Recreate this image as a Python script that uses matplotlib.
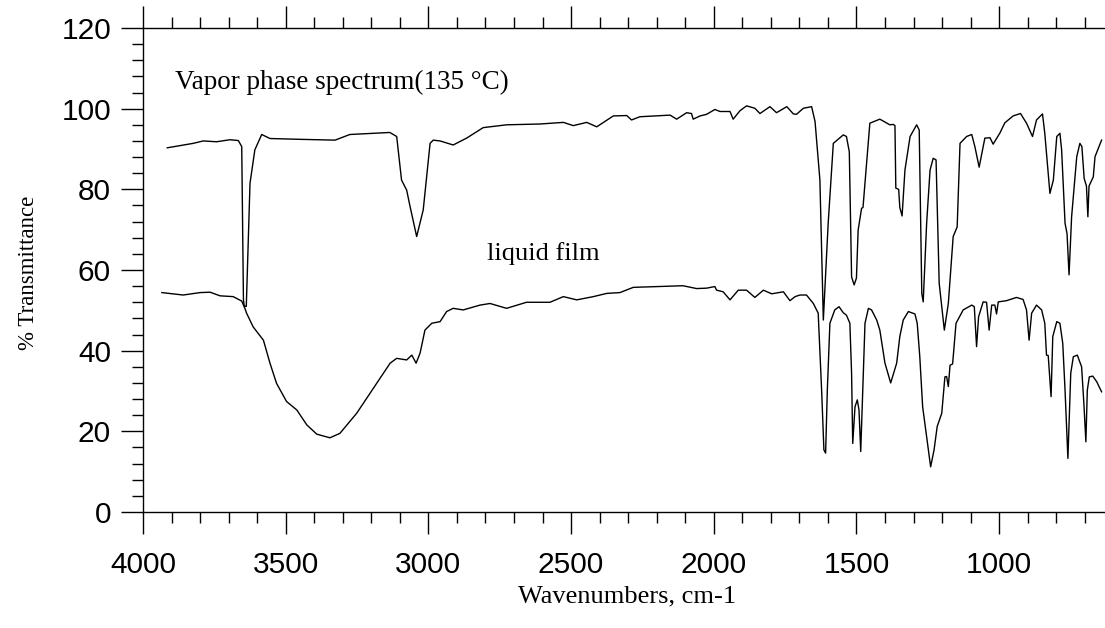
import matplotlib
matplotlib.use("Agg")
import matplotlib.pyplot as plt
from matplotlib.ticker import MultipleLocator

# vapor phase spectrum (135 C), wavenumber / % transmittance
vapor_wn = [3915, 3824, 3789, 3742, 3695, 3666, 3654, 3648, 3645, 3638,
            3625, 3608, 3584, 3555, 3450, 3327, 3275, 3135, 3111, 3094,
            3076, 3064, 3041, 3018, 2994, 2983, 2959, 2913, 2866, 2808,
            2726, 2609, 2527, 2492, 2445, 2410, 2352, 2305, 2288, 2259,
            2153, 2130, 2095, 2078, 2072, 2048, 2025, 1996, 1978, 1943,
            1932, 1908, 1885, 1856, 1838, 1803, 1780, 1744, 1721, 1710,
            1686, 1657, 1645, 1628, 1616, 1599, 1581, 1546, 1535, 1525,
            1517, 1508, 1500, 1494, 1482, 1477, 1453, 1418, 1383, 1371,
            1365, 1362, 1352, 1348, 1340, 1330, 1312, 1289, 1280, 1271,
            1266, 1254, 1242, 1231, 1221, 1210, 1192, 1178, 1161, 1147,
            1137, 1114, 1096, 1085, 1070, 1050, 1032, 1021, 997, 980,
            951, 925, 904, 883, 869, 848, 840, 828, 822, 810,
            798, 787, 781, 769, 762, 755, 746, 728, 717, 710,
            702, 694, 689, 685, 670, 664, 641]
vapor_t = [90.3, 91.4, 92.0, 91.8, 92.3, 92.1, 90.6, 52.6, 51.0, 51.0,
           81.5, 89.8, 93.6, 92.6, 92.4, 92.2, 93.6, 94.1, 93.1, 82.3,
           79.8, 75.7, 68.3, 74.9, 91.4, 92.2, 92.0, 91.0, 92.7, 95.3,
           96.0, 96.2, 96.6, 95.8, 96.6, 95.5, 98.2, 98.3, 97.2, 98.0,
           98.4, 97.4, 99.0, 98.8, 97.4, 98.2, 98.6, 99.8, 99.3, 99.3,
           97.4, 99.5, 100.7, 100.1, 98.8, 100.5, 99.0, 100.5, 98.7, 98.6,
           100.1, 100.5, 96.8, 82.3, 47.6, 71.6, 91.4, 93.5, 93.1, 89.3,
           58.3, 56.3, 58.0, 69.9, 75.3, 75.5, 96.4, 97.4, 96.0, 96.1,
           95.8, 80.3, 80.0, 75.5, 73.4, 84.8, 93.1, 96.0, 94.7, 54.2,
           52.1, 71.6, 84.8, 87.7, 87.3, 56.7, 45.1, 51.7, 68.3, 70.7,
           91.4, 93.1, 93.6, 90.6, 85.5, 92.7, 92.8, 91.2, 94.0, 96.5,
           98.2, 98.8, 96.4, 93.1, 97.2, 98.7, 93.9, 84.0, 79.0, 82.3,
           93.1, 93.9, 89.8, 71.6, 69.0, 58.8, 73.2, 88.1, 91.4, 90.6,
           82.7, 80.8, 73.2, 80.8, 83.1, 88.1, 92.2]

# liquid film spectrum
liquid_wn = [3934, 3859, 3800, 3765, 3730, 3684, 3654, 3643, 3637, 3614,
             3578, 3555, 3532, 3497, 3461, 3426, 3391, 3345, 3310, 3251,
             3181, 3134, 3111, 3076, 3058, 3043, 3029, 3012, 2988, 2959,
             2936, 2913, 2878, 2819, 2784, 2726, 2656, 2574, 2527, 2480,
             2422, 2375, 2329, 2282, 2200, 2108, 2060, 2025, 1996, 1990,
             1967, 1943, 1914, 1885, 1856, 1826, 1797, 1756, 1733, 1715,
             1698, 1675, 1651, 1634, 1622, 1614, 1608, 1602, 1593, 1576,
             1561, 1546, 1535, 1523, 1517, 1513, 1505, 1497, 1491, 1485,
             1478, 1470, 1458, 1447, 1429, 1418, 1400, 1380, 1359, 1348,
             1336, 1318, 1295, 1287, 1278, 1268, 1254, 1240, 1228, 1217,
             1201, 1190, 1184, 1178, 1172, 1163, 1151, 1126, 1096, 1087,
             1079, 1072, 1056, 1044, 1035, 1026, 1015, 1009, 1003, 974,
             939, 916, 904, 895, 886, 869, 851, 840, 834, 828,
             818, 812, 798, 787, 777, 769, 759, 749, 740, 726,
             711, 703, 696, 691, 684, 672, 658, 641]
liquid_t = [54.4, 53.8, 54.4, 54.5, 53.6, 53.4, 52.3, 50.5, 49.3, 45.9,
            42.6, 36.9, 31.9, 27.4, 25.3, 21.6, 19.3, 18.4, 19.5, 24.5,
            31.9, 36.9, 38.1, 37.7, 38.9, 36.9, 39.4, 45.1, 46.8, 47.2,
            49.7, 50.5, 50.1, 51.3, 51.7, 50.5, 52.0, 52.0, 53.4, 52.6,
            53.4, 54.2, 54.4, 55.7, 55.9, 56.1, 55.4, 55.5, 55.9, 55.0,
            54.6, 52.6, 55.0, 55.0, 53.2, 55.0, 54.1, 54.6, 52.4, 53.4,
            53.8, 53.8, 51.7, 49.3, 30.2, 15.4, 14.6, 30.2, 46.8, 50.1,
            50.9, 49.4, 48.8, 46.8, 34.4, 17.0, 26.1, 27.8, 25.3, 15.0,
            30.2, 46.8, 50.5, 50.1, 47.6, 45.1, 36.9, 32.0, 36.9, 43.5,
            47.6, 49.7, 49.1, 46.8, 38.5, 26.1, 18.7, 11.2, 15.4, 21.2,
            24.5, 33.5, 33.6, 31.1, 36.4, 36.7, 46.8, 50.1, 51.3, 50.9,
            41.0, 48.4, 52.1, 52.0, 45.1, 51.3, 51.3, 49.1, 52.1, 52.4,
            53.2, 52.7, 50.1, 42.6, 49.3, 51.3, 50.1, 46.8, 38.9, 38.8,
            28.6, 43.5, 47.2, 46.8, 41.8, 30.2, 13.3, 34.4, 38.5, 38.9,
            36.0, 26.9, 17.4, 30.2, 33.5, 33.7, 32.3, 29.8]

fig = plt.figure(figsize=(11.05, 6.28), dpi=100)
ax = fig.add_axes([0.1294, 0.1847, 0.8706, 0.7707])

ax.plot(vapor_wn, vapor_t, color='black', lw=1.0)
ax.plot(liquid_wn, liquid_t, color='black', lw=1.0)

ax.set_xlim(4000, 629)
ax.set_ylim(0, 120)

ax.xaxis.set_major_locator(MultipleLocator(500))
ax.xaxis.set_minor_locator(MultipleLocator(100))
ax.yaxis.set_major_locator(MultipleLocator(20))
ax.yaxis.set_minor_locator(MultipleLocator(4))

ax.spines['right'].set_visible(False)
for s in ['left', 'bottom', 'top']:
    ax.spines[s].set_linewidth(1.0)
ax.tick_params(which='both', direction='out', top=True, right=False,
               labeltop=False, width=1.0)
ax.tick_params(which='major', length=16, labelsize=21.5)
ax.tick_params(which='minor', length=8)
ax.tick_params(axis='x', which='major', pad=12)
ax.tick_params(axis='y', which='major', pad=7)
for lab in ax.get_xticklabels() + ax.get_yticklabels():
    lab.set_fontfamily('Liberation Sans')

serif = 'Liberation Serif'
ax.text(3888, 106.5, 'Vapor phase spectrum(135 \u00b0C)', fontsize=19.5,
        family=serif, ha='left', va='center')
ax.text(2796, 64.2, 'liquid film', fontsize=19, family=serif,
        ha='left', va='center')

ax.set_xlabel('Wavenumbers, cm-1', fontsize=19, family=serif)
ax.xaxis.set_label_coords(0.503, -0.151)
ax.set_ylabel('% Transmittance', fontsize=16.5, family=serif)
ax.yaxis.set_label_coords(-0.108, 0.494)

plt.savefig("out.png", dpi=100)
